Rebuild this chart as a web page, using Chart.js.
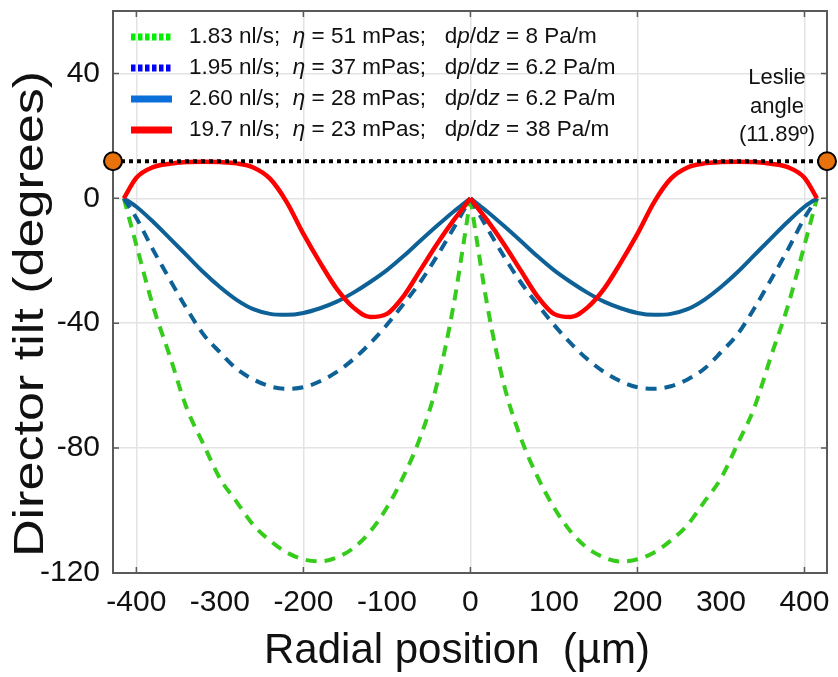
<!DOCTYPE html>
<html>
<head>
<meta charset="utf-8">
<script src="https://cdn.jsdelivr.net/npm/chart.js@4/dist/chart.umd.min.js"></script>
<style>
html,body{margin:0;padding:0;background:#fff;}
#wrap{width:838px;height:677px;position:relative;}
canvas{display:block;}
</style>
</head>
<body>
<div id="wrap"><canvas id="c" width="838" height="677"></canvas></div>
<script>
// ---- Data ----
const radialPositions = [-415,-400,-380,-360,-340,-320,-300,-280,-260,-240,-220,-200,-180,-160,-140,-120,-100,-80,-60,-40,-20,-10,0,
                         10,20,40,60,80,100,120,140,160,180,200,220,240,260,280,300,320,340,360,380,400,415];
// 1.83 nl/s (green dashed)
const tilt183 = [0,-15,-34.6,-50.5,-67,-78.6,-89.7,-97.2,-104.6,-109.6,-113.4,-115.6,-116.3,-115.0,-112.0,-106.7,-99.0,-89.0,-76.5,-59.5,-34.0,-17.5,0,
                 -17.5,-34.0,-59.5,-76.5,-89.0,-99.0,-106.7,-112.0,-115.0,-116.3,-115.6,-113.4,-109.6,-104.6,-97.2,-89.7,-78.6,-67,-50.5,-34.6,-15,0];
// 1.95 nl/s (blue dashed)
const tilt195 = [0,-6.3,-16.5,-26.0,-35.2,-43.5,-49.3,-54.6,-58.0,-60.2,-61.0,-60.5,-58.6,-55.6,-51.5,-46.4,-40.5,-33.8,-26.8,-18.5,-9.5,-4.8,0,
                 -4.8,-9.5,-18.5,-26.8,-33.8,-40.5,-46.4,-51.5,-55.6,-58.6,-60.5,-61.0,-60.2,-58.0,-54.6,-49.3,-43.5,-35.2,-26.0,-16.5,-6.3,0];
// 2.60 nl/s (blue solid)
const tilt260 = [0,-2.7,-7.5,-12.8,-18.2,-23.6,-28.4,-32.5,-35.5,-37.0,-37.3,-36.7,-35.2,-33.1,-30.2,-26.8,-23.0,-18.5,-13.6,-8.8,-4.2,-2.1,0,
                 -2.1,-4.2,-8.8,-13.6,-18.5,-23.0,-26.8,-30.2,-33.1,-35.2,-36.7,-37.3,-37.0,-35.5,-32.5,-28.4,-23.6,-18.2,-12.8,-7.5,-2.7,0];
// 19.7 nl/s (red)
const tilt197 = [0,6.6,10.0,11.1,11.6,11.7,11.6,11.2,9.9,6.3,-1.2,-11.4,-20.6,-29.0,-35.0,-38.0,-37.0,-31.3,-23.0,-14.6,-7.0,-3.5,0,
                 -3.5,-7.0,-14.6,-23.0,-31.3,-37.0,-38.0,-35.0,-29.0,-20.6,-11.4,-1.2,6.3,9.9,11.2,11.6,11.7,11.6,11.1,10.0,6.6,0];

const flowRates = ['1.83','1.95','2.60','19.7'];
const viscosities = ['51','37','28','23'];
const pressureGradients = ['8','6.2','6.2','38'];
const leslieAngle = 11.89;
const leslieLabel = ['Leslie','angle','(11.89º)'];
const xTitle = 'Radial position  (µm)';
const yTitle = 'Director tilt (degrees)';

const xTickValues = [-400,-300,-200,-100,0,100,200,300,400];
const yTickValues = [-120,-80,-40,0,40];
const xMin = -428, xMax = 427, yMin = -120, yMax = 60;

// ---- Styles ----
const FONT = '"Liberation Sans", Arial, Helvetica, sans-serif';
const lineColors = ['#36cc1c','#0d6196','#0d6196','#ff0000'];
const swatchColors = ['#00ee00','#0000ff','#0a6fd8','#ff0000'];
const swatchDotted = [true,true,false,false];
const lineDashes = [[11,8],[11,8],[],[]];
const seriesValues = [tilt183, tilt195, tilt260, tilt197];

function half(values, side){
  return radialPositions.map((x,i)=>({x:x,y:values[i]}))
    .filter(p => side < 0 ? p.x <= 0 : p.x >= 0);
}

const datasets = [];
datasets.push({
  label:'Leslie angle markers', data:[{x:xMin,y:leslieAngle},{x:xMax,y:leslieAngle}],
  showLine:false, pointRadius:9, pointBackgroundColor:'#e8720c', pointBorderColor:'#000',
  pointBorderWidth:2, clip:false
});
datasets.push({
  label:'Leslie angle', data:[{x:xMin,y:leslieAngle},{x:xMax,y:leslieAngle}],
  borderColor:'#000', borderWidth:4, borderDash:[4,4], borderCapStyle:'butt', pointRadius:0
});
for (let s = 3; s >= 0; s--) {
  const lab = flowRates[s]+' nl/s; η = '+viscosities[s]+' mPas; dp/dz = '+pressureGradients[s]+' Pa/m';
  [-1,1].forEach(side=>{
    datasets.push({
      label: lab, data: half(seriesValues[s], side),
      borderColor: lineColors[s], borderWidth: s===3 ? 4.5 : 4, borderDash: lineDashes[s],
      borderCapStyle:'butt', pointRadius:0, cubicInterpolationMode:'monotone', fill:false
    });
  });
}

const boxPlugin = {
  id:'box',
  beforeDatasetsDraw(chart){
    const {ctx, chartArea:a, scales:{x,y}} = chart;
    ctx.save();
    ctx.strokeStyle = '#5a5a5a';
    ctx.lineWidth = 2;
    ctx.strokeRect(a.left, a.top, a.right-a.left, a.bottom-a.top);
    ctx.lineWidth = 1.5;
    ctx.beginPath();
    xTickValues.filter(v=>v%200===0).forEach(v=>{
      const px = x.getPixelForValue(v);
      ctx.moveTo(px,a.bottom); ctx.lineTo(px,a.bottom-6);
      ctx.moveTo(px,a.top); ctx.lineTo(px,a.top+6);
    });
    yTickValues.forEach(v=>{
      const py = y.getPixelForValue(v);
      ctx.moveTo(a.left,py); ctx.lineTo(a.left+6,py);
      ctx.moveTo(a.right,py); ctx.lineTo(a.right-6,py);
    });
    ctx.stroke();
    ctx.fillStyle = '#111';
    ctx.textAlign = 'center';
    ctx.textBaseline = 'middle';
    // x axis title
    ctx.font = '42px '+FONT;
    ctx.fillText(xTitle, 457, 651);
    // y axis title (stretched along its length like the reference)
    ctx.save();
    ctx.translate(31, 314);
    ctx.rotate(-Math.PI/2);
    ctx.scale(1.24, 1);
    ctx.fillText(yTitle, 0, 0);
    ctx.restore();
    ctx.restore();
  }
};

const legendPlugin = {
  id:'customLegend',
  afterDatasetsDraw(chart){
    const ctx = chart.ctx;
    ctx.save();
    for (let i=0;i<4;i++){
      const y = 37 + i*31;
      ctx.beginPath();
      ctx.lineWidth = 7;
      ctx.strokeStyle = swatchColors[i];
      ctx.setLineDash(swatchDotted[i] ? [4.5,2.5] : []);
      ctx.moveTo(131,y); ctx.lineTo(172,y); ctx.stroke();
      ctx.setLineDash([]);
      const pieces = [
        [flowRates[i]+' nl/s;  ',false],['η',true],[' = '+viscosities[i]+' mPas;   d',false],
        ['p',true],['/d',false],['z',true],[' = '+pressureGradients[i]+' Pa/m',false]
      ];
      let x = 189;
      ctx.textBaseline = 'middle';
      ctx.textAlign = 'left';
      ctx.fillStyle = '#111';
      pieces.forEach(([t,it])=>{
        ctx.font = (it?'italic ':'')+'22.5px '+FONT;
        ctx.fillText(t,x,y);
        x += ctx.measureText(t).width;
      });
    }
    ctx.font = '22px '+FONT;
    ctx.textAlign = 'center';
    leslieLabel.forEach((t,k)=>ctx.fillText(t, 777, 78 + k*28.5));
    ctx.restore();
  }
};

new Chart(document.getElementById('c'), {
  type:'line',
  data:{datasets},
  options:{
    responsive:false, animation:false, devicePixelRatio:1,
    layout:{padding:{top:9,right:9,left:0,bottom:0}},
    plugins:{legend:{display:false}, tooltip:{enabled:false}},
    scales:{
      x:{
        type:'linear', min:xMin, max:xMax,
        afterBuildTicks: s => { s.ticks = xTickValues.map(v=>({value:v})); },
        afterFit: s => { s.height = 104; s.paddingLeft = 0; s.paddingRight = 0; },
        ticks:{font:{size:30,family:FONT}, color:'#111', padding:12, maxRotation:0, autoSkip:false},
        grid:{color: c => (c.tick && c.tick.value % 200 === 0) ? '#e3e3e3' : 'rgba(0,0,0,0)', lineWidth:1.5, drawTicks:false},
        border:{display:false},
        title:{display:false, text:xTitle}
      },
      y:{
        type:'linear', min:yMin, max:yMax,
        afterBuildTicks: s => { s.ticks = yTickValues.map(v=>({value:v})); },
        afterFit: s => { s.width = 113; s.paddingTop = 0; s.paddingBottom = 0; },
        ticks:{font:{size:30,family:FONT}, color:'#111', padding:13},
        grid:{color:'#e3e3e3', lineWidth:1.5, drawTicks:false},
        border:{display:false},
        title:{display:false, text:yTitle}
      }
    }
  },
  plugins:[boxPlugin, legendPlugin]
});
</script>
</body>
</html>
